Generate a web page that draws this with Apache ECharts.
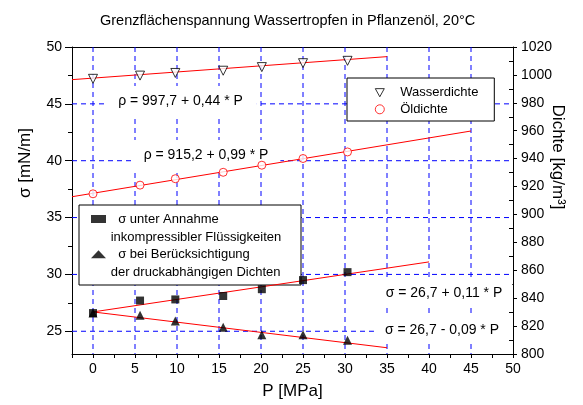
<!DOCTYPE html>
<html><head><meta charset="utf-8">
<script src="https://cdn.jsdelivr.net/npm/echarts@6/dist/echarts.min.js"></script>
<style>html,body{margin:0;padding:0;background:#fff}#c{width:583px;height:405px}</style>
</head><body><div id="c"></div>
<script>
// ---- data ----
const pressure = [0, 5.6, 9.8, 15.5, 20.1, 25.0, 30.3];
const waterDensity = [997.2, 999.5, 1001.4, 1003.0, 1005.6, 1008.4, 1010.1];
const oilDensity = [914.8, 921.0, 925.6, 930.2, 935.3, 940.1, 944.8];
const sigmaIncompressible = [26.6, 27.7, 27.8, 28.1, 28.7, 29.5, 30.2];
const sigmaDensity = [26.6, 26.4, 25.9, 25.35, 24.7, 24.7, 24.2];
// fit lines (end points)
const waterFitP = [-2.5, 35];  const waterFitV = [996.6, 1013.1];
const oilFitP = [-2.5, 45];    const oilFitV = [912.7, 959.8];
const sigIncFitP = [0, 40];    const sigIncFitV = [26.7, 31.1];
const sigDenFitP = [0, 35];    const sigDenFitV = [26.7, 23.55];
// ticks / grid
const xGridValues = [0, 5, 10, 15, 20, 25, 30, 35, 40, 45];
const yGridValues = [25, 30, 35, 40, 45];
const yLeftLabels = [25, 30, 35, 40, 45, 50];
const yLeftMinor = [27.5, 32.5, 37.5, 42.5, 47.5];
const yRightMinor = [810, 830, 850, 870, 890, 910, 930, 950, 970, 990, 1010];
// texts
const titleText = 'Grenzflächenspannung Wassertropfen in Pflanzenöl, 20°C';
const nameWater = 'Wasserdichte';
const nameOil = 'Öldichte';
const nameSigInc = 'σ unter Annahme inkompressibler Flüssigkeiten';
const nameSigDen = 'σ bei Berücksichtigung der druckabhängigen Dichten';
const legendLine1 = {};
legendLine1[nameSigInc] = '  σ unter Annahme';
legendLine1[nameSigDen] = '  σ bei Berücksichtigung';
const legendLine2 = ['inkompressibler Flüssigkeiten', 'der druckabhängigen Dichten'];
const equations = ['ρ = 997,7 + 0,44 * P', 'ρ = 915,2 + 0,99 * P', 'σ = 26,7 + 0,11 * P', 'σ = 26,7 - 0,09 * P'];

const FF = "'Liberation Sans', Arial, sans-serif";
const zip = (a, b) => a.map((v, i) => [v, b[i]]);
const GRID_STYLE = {stroke: '#0000ff', lineWidth: 1, lineDash: [5, 4], fill: null};

const chart = echarts.init(document.getElementById('c'), null, {renderer: 'canvas'});
const option = {
  animation: false,
  backgroundColor: '#fff',
  textStyle: {fontFamily: FF, color: '#000'},
  title: {text: titleText, left: 100, top: 13, padding: 0,
    textStyle: {fontFamily: FF, fontSize: 14.5, fontWeight: 'normal', color: '#000'}},
  grid: {left: 72, right: 70, top: 47, bottom: 47, containLabel: false},
  xAxis: [
    {type: 'value', min: -2.5, max: 50, interval: 2.5, position: 'bottom',
      name: 'P [MPa]', nameLocation: 'middle', nameGap: 29,
      nameTextStyle: {fontFamily: FF, fontSize: 17, color: '#000'},
      axisLine: {show: true, onZero: false, lineStyle: {color: '#000', width: 1}},
      axisTick: {show: true, length: 4, lineStyle: {color: '#000'}},
      axisLabel: {fontFamily: FF, fontSize: 14, color: '#000', margin: 8,
        showMinLabel: true, showMaxLabel: true,
        formatter: v => (v >= 0 && Math.abs(v % 5) < 1e-6) ? String(v) : ''},
      splitLine: {show: false}},
    {type: 'value', min: -2.5, max: 50, position: 'top',
      axisLine: {show: true, onZero: false, lineStyle: {color: '#000', width: 1}},
      axisTick: {show: false}, axisLabel: {show: false}, splitLine: {show: false}}
  ],
  yAxis: [
    {type: 'value', min: 23, max: 50, position: 'left',
      axisLine: {show: true, onZero: false, lineStyle: {color: '#000', width: 1}},
      axisTick: {show: true, length: 7, customValues: yLeftLabels, lineStyle: {color: '#000'}},
      axisLabel: {fontFamily: FF, fontSize: 14, color: '#000', margin: 10, customValues: yLeftLabels},
      splitLine: {show: false}},
    {type: 'value', min: 800, max: 1020, interval: 20, position: 'right',
      axisLine: {show: true, onZero: false, lineStyle: {color: '#000', width: 1}},
      axisTick: {show: true, length: 4, lineStyle: {color: '#000'}},
      axisLabel: {fontFamily: FF, fontSize: 14, color: '#000', margin: 8, formatter: v => String(v)},
      splitLine: {show: false}},
    {type: 'value', min: 23, max: 50, position: 'left',
      axisLine: {show: false, onZero: false}, axisLabel: {show: false}, splitLine: {show: false},
      axisTick: {show: true, length: 4, customValues: yLeftMinor, lineStyle: {color: '#000'}}},
    {type: 'value', min: 800, max: 1020, position: 'right',
      axisLine: {show: false, onZero: false}, axisLabel: {show: false}, splitLine: {show: false},
      axisTick: {show: true, inside: true, length: 4, customValues: yRightMinor, lineStyle: {color: '#000'}}}
  ],
  legend: [
    {data: [
        {name: nameWater, icon: 'path://M0,0 L10,0 L5,9 Z',
          itemStyle: {color: '#fff', borderColor: '#000', borderWidth: 1}},
        {name: nameOil, icon: 'circle',
          itemStyle: {color: '#fff', borderColor: '#ff0000', borderWidth: 1}}],
      orient: 'vertical', left: 347, top: 78,
      padding: [7.2, 14, 4.2, 27.8], itemWidth: 9, itemHeight: 9, itemGap: 1.6,
      formatter: n => '   ' + n,
      selectedMode: false, backgroundColor: '#fff', borderColor: '#000', borderWidth: 1, z: 4,
      textStyle: {fontFamily: FF, fontSize: 13, lineHeight: 15, width: 91, color: '#000'}},
    {data: [nameSigInc, nameSigDen], orient: 'vertical', left: 79, top: 205,
      padding: [6.5, 20, 23.2, 12], itemWidth: 15, itemHeight: 8, itemGap: 20.3,
      selectedMode: false, backgroundColor: '#fff', borderColor: '#000', borderWidth: 1, z: 4,
      formatter: n => legendLine1[n],
      textStyle: {fontFamily: FF, fontSize: 13, lineHeight: 15, width: 170, color: '#000'}}
  ],
  series: [
    {name: 'gridX', type: 'custom', xAxisIndex: 0, yAxisIndex: 0, z: 1, silent: true, clip: false,
      data: xGridValues.map(v => [v, 23]), encode: {x: 0, y: 1},
      renderItem: (params, api) => {
        const cs = params.coordSys;
        const x = api.coord([api.value(0), api.value(1)])[0];
        return {type: 'line', shape: {x1: x, y1: cs.y, x2: x, y2: cs.y + cs.height}, style: GRID_STYLE};
      }},
    {name: 'gridY', type: 'custom', xAxisIndex: 0, yAxisIndex: 0, z: 1, silent: true, clip: false,
      data: yGridValues.map(v => [-2.5, v]), encode: {x: 0, y: 1},
      renderItem: (params, api) => {
        const cs = params.coordSys;
        const y = api.coord([api.value(0), api.value(1)])[1];
        return {type: 'line', shape: {x1: cs.x, y1: y, x2: cs.x + cs.width, y2: y}, style: GRID_STYLE};
      }},
    {name: 'fitWater', type: 'line', yAxisIndex: 1, data: zip(waterFitP, waterFitV), symbol: 'none', z: 5,
      lineStyle: {color: '#ff0000', width: 1}, silent: true},
    {name: 'fitOil', type: 'line', yAxisIndex: 1, data: zip(oilFitP, oilFitV), symbol: 'none', z: 5,
      lineStyle: {color: '#ff0000', width: 1}, silent: true},
    {name: 'fitSigInc', type: 'line', yAxisIndex: 0, data: zip(sigIncFitP, sigIncFitV), symbol: 'none', z: 5,
      lineStyle: {color: '#ff0000', width: 1}, silent: true},
    {name: 'fitSigDen', type: 'line', yAxisIndex: 0, data: zip(sigDenFitP, sigDenFitV), symbol: 'none', z: 5,
      lineStyle: {color: '#ff0000', width: 1}, silent: true},
    {name: nameWater, type: 'scatter', yAxisIndex: 1, data: zip(pressure, waterDensity), z: 6,
      symbol: 'triangle', symbolRotate: 180, symbolSize: 9,
      itemStyle: {color: '#fff', borderColor: '#000', borderWidth: 1}},
    {name: nameOil, type: 'scatter', yAxisIndex: 1, data: zip(pressure, oilDensity), z: 6,
      symbol: 'circle', symbolSize: 8,
      itemStyle: {color: '#fff', borderColor: '#ff0000', borderWidth: 1}},
    {name: nameSigInc, type: 'scatter', yAxisIndex: 0, data: zip(pressure, sigmaIncompressible), z: 6,
      symbol: 'rect', symbolSize: 8, itemStyle: {color: '#000'}},
    {name: nameSigDen, type: 'scatter', yAxisIndex: 0, data: zip(pressure, sigmaDensity), z: 6,
      symbol: 'triangle', symbolSize: 9, itemStyle: {color: '#000'}}
  ],
  graphic: [
    {type: 'text', x: 180.5, y: 101, z: 3, silent: true,
      style: {text: equations[0], fontFamily: FF, fontSize: 14, fill: '#000', align: 'center', verticalAlign: 'middle',
        backgroundColor: '#fff', padding: [8, 14]}},
    {type: 'text', x: 206, y: 155, z: 3, silent: true,
      style: {text: equations[1], fontFamily: FF, fontSize: 14, fill: '#000', align: 'center', verticalAlign: 'middle',
        backgroundColor: '#fff', padding: [8, 12]}},
    {type: 'text', x: 442.5, y: 293, z: 3, silent: true,
      style: {text: equations[2], fontFamily: FF, fontSize: 14, fill: '#000', align: 'center', verticalAlign: 'middle',
        backgroundColor: '#fff', padding: [8, 10, 8, 13]}},
    {type: 'text', x: 441.5, y: 330, z: 3, silent: true,
      style: {text: equations[3], fontFamily: FF, fontSize: 14, fill: '#000', align: 'center', verticalAlign: 'middle',
        backgroundColor: '#fff', padding: [7, 10, 7, 11]}},
    {type: 'text', x: 110.7, y: 237.3, z: 7, silent: true,
      style: {text: legendLine2[0], fontFamily: FF, fontSize: 13, fill: '#000', align: 'left', verticalAlign: 'middle'}},
    {type: 'text', x: 110.7, y: 272.3, z: 7, silent: true,
      style: {text: legendLine2[1], fontFamily: FF, fontSize: 13, fill: '#000', align: 'left', verticalAlign: 'middle'}},
    {type: 'text', x: 25, y: 163, rotation: Math.PI / 2, z: 3, silent: true,
      style: {text: 'σ [mN/m]', fontFamily: FF, fontSize: 17, fill: '#000', align: 'center', verticalAlign: 'middle'}},
    {type: 'text', x: 558, y: 157, rotation: -Math.PI / 2, z: 3, silent: true,
      style: {text: 'Dichte [kg/m³]', fontFamily: FF, fontSize: 17, fill: '#000', align: 'center', verticalAlign: 'middle'}}
  ]
};
chart.setOption(option);
</script>
</body></html>
